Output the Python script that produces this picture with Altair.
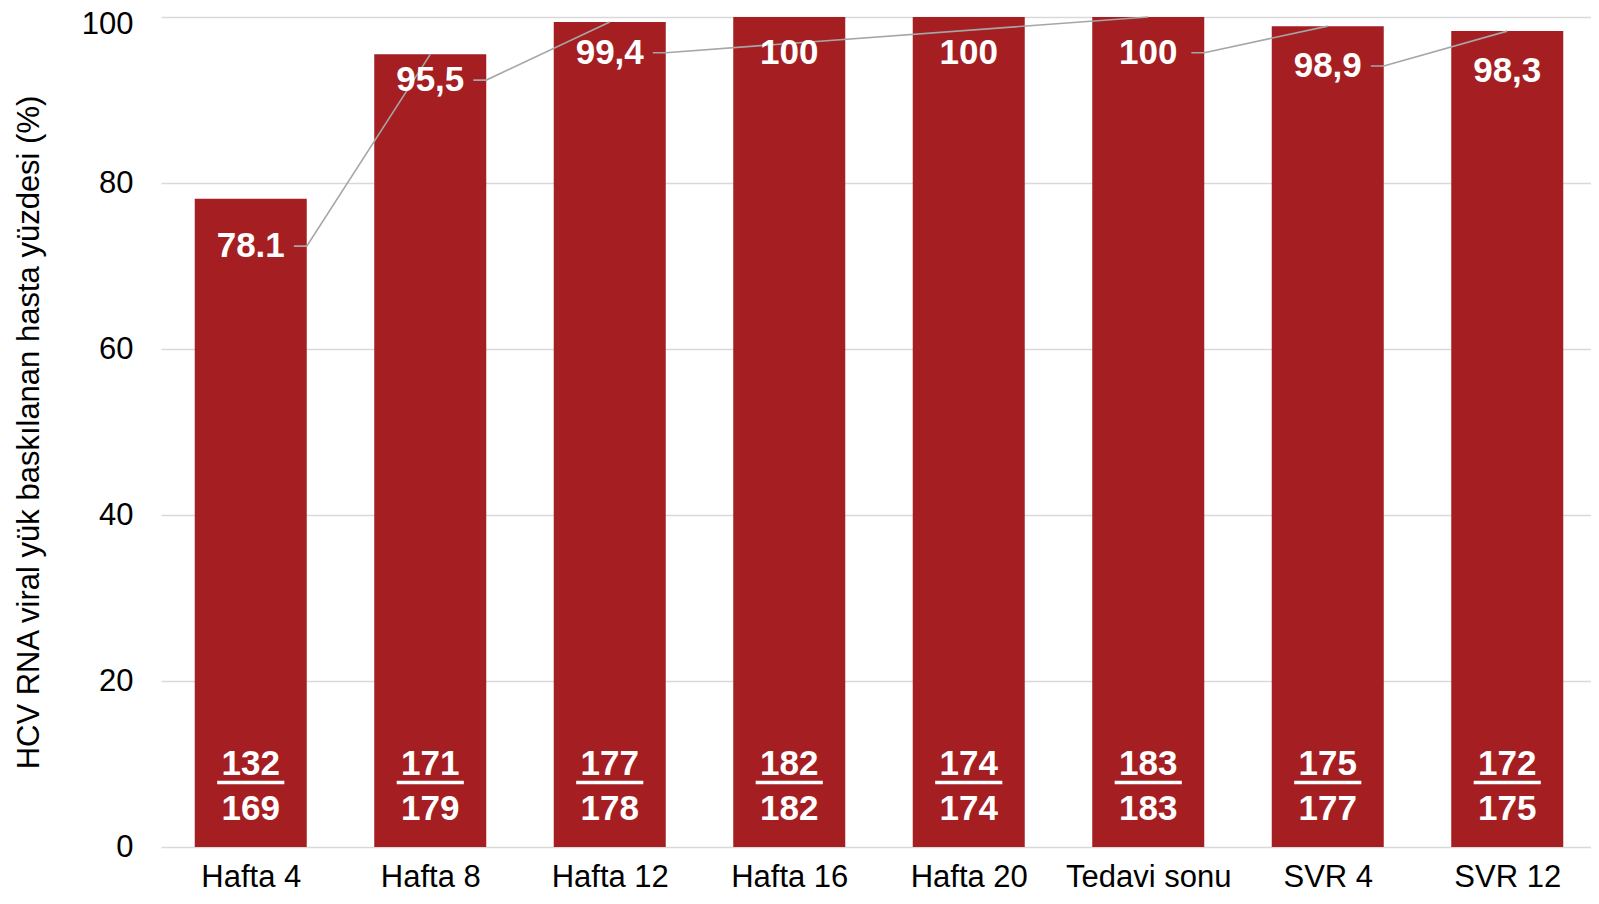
import json
import altair as alt
import pandas as pd

categories = ["Hafta 4", "Hafta 8", "Hafta 12", "Hafta 16", "Hafta 20", "Tedavi sonu", "SVR 4", "SVR 12"]
values = [78.1, 95.5, 99.4, 100, 100, 100, 98.9, 98.3]
value_labels = ["78.1", "95,5", "99,4", "100", "100", "100", "98,9", "98,3"]
label_levels = [72.4, 92.4, 95.7, 95.7, 95.7, 95.7, 94.1, 93.5]
numerators = [132, 171, 177, 182, 174, 183, 175, 172]
denominators = [169, 179, 178, 182, 174, 183, 177, 175]
leader_from = [0, 1, 2, 5, 6]
leader_to = [1, 2, 5, 6, 7]
y_ticks = [0, 20, 40, 60, 80, 100]

FONT = "Liberation Sans, Arial, sans-serif"
RED = "#A51F22"
HALF_BAR = 0.312
HALF_LINE = 0.187
LABEL_GAP = 0.24
NUM_LEVEL = 9.95
DEN_LEVEL = 4.6
BAR_LEVEL = 7.77

df = pd.DataFrame({
    "idx": list(range(len(categories))),
    "cat": categories,
    "value": values,
    "vlabel": value_labels,
    "ly": label_levels,
    "num": [str(n) for n in numerators],
    "den": [str(d) for d in denominators],
})

rows = []
for s, (a, b) in enumerate(zip(leader_from, leader_to)):
    rows.append({"seg": s, "o": 0, "x": a + LABEL_GAP, "y": label_levels[a]})
    rows.append({"seg": s, "o": 1, "x": a + HALF_BAR, "y": label_levels[a]})
    rows.append({"seg": s, "o": 2, "x": b, "y": values[b]})
leaders = pd.DataFrame(rows)

xscale = alt.Scale(domain=[-0.5, 7.4666], nice=False, zero=False)
yscale = alt.Scale(domain=[0, 100], nice=False)

label_expr = json.dumps(categories) + "[datum.value]"

x_axis = alt.Axis(values=list(range(len(categories))), labelExpr=label_expr, title=None,
                  grid=False, ticks=False, tickSize=0, domain=False, labelFontSize=31,
                  labelFont=FONT, labelColor="#000000", labelPadding=15, labelAngle=0)
y_axis = alt.Axis(values=y_ticks, title="HCV RNA viral yük baskılanan hasta yüzdesi (%)",
                  grid=True, gridColor="#D9D9D9", gridWidth=1.6, ticks=False, tickSize=0,
                  domain=False, labelFontSize=31, labelFont=FONT, labelColor="#000000",
                  labelPadding=28,
                  labelOffset={"condition": {"test": "datum.value === 100", "value": 7}, "value": 0},
                  titleFontSize=31, titleFont=FONT, titleFontWeight="normal",
                  titleColor="#000000", titlePadding=36)

base = alt.Chart(df).transform_calculate(
    x0="datum.idx - %f" % HALF_BAR,
    x1="datum.idx + %f" % HALF_BAR,
    u0="datum.idx - %f" % HALF_LINE,
    u1="datum.idx + %f" % HALF_LINE,
    zero="0",
    nl="%f" % NUM_LEVEL,
    dl="%f" % DEN_LEVEL,
    bl="%f" % BAR_LEVEL,
)

bars = base.mark_bar(color=RED).encode(
    x=alt.X("x0:Q", scale=xscale, axis=x_axis),
    x2="x1:Q",
    y=alt.Y("value:Q", scale=yscale, axis=y_axis),
    y2="zero:Q",
)

lines = alt.Chart(leaders).mark_line(color="#A6A6A6", strokeWidth=1.6).encode(
    x=alt.X("x:Q", scale=xscale),
    y=alt.Y("y:Q", scale=yscale),
    detail="seg:N",
    order="o:Q",
)

vtext = base.mark_text(color="white", fontSize=35, fontWeight="bold", font=FONT,
                       baseline="middle", align="center").encode(
    x=alt.X("idx:Q", scale=xscale), y=alt.Y("ly:Q", scale=yscale), text="vlabel:N")

ntext = base.mark_text(color="white", fontSize=35, fontWeight="bold", font=FONT,
                       baseline="middle", align="center").encode(
    x=alt.X("idx:Q", scale=xscale), y=alt.Y("nl:Q", scale=yscale), text="num:N")

dtext = base.mark_text(color="white", fontSize=35, fontWeight="bold", font=FONT,
                       baseline="middle", align="center").encode(
    x=alt.X("idx:Q", scale=xscale), y=alt.Y("dl:Q", scale=yscale), text="den:N")

ubar = base.mark_rule(color="white", strokeWidth=3.5).encode(
    x=alt.X("u0:Q", scale=xscale), x2="u1:Q", y=alt.Y("bl:Q", scale=yscale))

chart = alt.layer(bars, lines, vtext, ntext, dtext, ubar).properties(
    width=1430, height=830,
    autosize=alt.AutoSizeParams(type="none"),
    padding={"left": 153, "top": 9, "right": 0, "bottom": 49},
    background="white",
).configure_view(stroke=None)

chart.save("out.html", embed_options={"renderer": "svg", "actions": False})
